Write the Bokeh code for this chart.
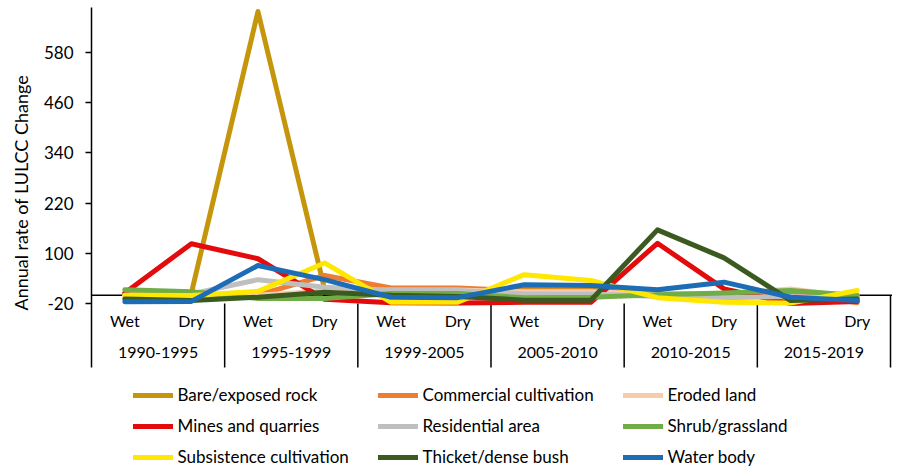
from bokeh.plotting import figure
from bokeh.models import FixedTicker, Span, Legend, LegendItem, Range1d, Title
from bokeh.core.properties import value
from bokeh.embed import file_html
from bokeh.resources import INLINE

# ---------------- data ----------------
periods = ["1990-1995", "1995-1999", "1999-2005", "2005-2010", "2010-2015", "2015-2019"]
seasons = ["Wet", "Dry"]

series_names = [
    "Bare/exposed rock", "Commercial cultivation", "Eroded land",
    "Mines and quarries", "Residential area", "Shrub/grassland",
    "Subsistence cultivation", "Thicket/dense bush", "Water body",
]
series_colors = [
    "#C5960C", "#ED7D31", "#F8CBAD",
    "#E30B0B", "#BFBFBF", "#70AD47",
    "#FFE700", "#3B5A20", "#1C6CB6",
]

bare_rock     = [0, 5, 678, 15, 5, 5, 14, 12, 3, 3, 3, 0]
commercial    = [2, 2, 0, 47, 17, 17, 10, 10, 0, -2, 8, -18]
eroded        = [0, 0, 0, 10, 12, 12, 8, 8, 2, 2, 15, -5]
mines         = [5, 123, 87, -10, -18, -19, -17, -17, 124, 15, -20, -15]
residential   = [0, 3, 37, 19, 11, 11, 3, 3, -3, -6, -3, -8]
shrub         = [13, 8, -8, -8, 4, 4, -6, -5, 1, 5, 11, -1]
subsistence   = [0, -1, 9, 77, -17, -17, 49, 35, -6, -17, -19, 11]
thicket       = [-9, -13, -5, 7, 0, -3, -12, -12, 156, 89, -13, -9]
water         = [-16, -15, 71, 37, -5, -6, 25, 23, 13, 31, -5, -13]

series_values = [bare_rock, commercial, eroded, mines, residential,
                 shrub, subsistence, thicket, water]

y_ticks = [-20, 100, 220, 340, 460, 580]
y_tick_labels = ["-20", "100", "220", "340", "460", "580"]
y_title = "Annual rate of LULCC Change"

# ---------------- layout constants ----------------
FONT = "Lato"
TXT = "#000000"
W, H = 892, 468
LEFT, TOP = 91, 7
Y_TOP = 687.6          # value at top of the plot frame
Y_AXIS_LOW = -173.0    # bottom of axis/category area
Y_FRAME_LOW = -414.4   # bottom of frame (legend area)
Y_SEASON = -60.6       # vertical position of Wet/Dry labels
Y_GROUP = -137.1       # vertical position of period labels

n_seasons = len(seasons)
n = len(periods) * n_seasons
xs = list(range(n))

p = figure(width=W, height=H,
           x_range=Range1d(-0.5, n - 0.47),
           y_range=Range1d(Y_FRAME_LOW, Y_TOP),
           output_backend="svg", toolbar_location=None, title=None,
           x_axis_type=None,
           min_border_left=LEFT, min_border_right=0,
           min_border_top=TOP, min_border_bottom=0)
p.outline_line_color = None
p.xgrid.visible = False
p.ygrid.visible = False
p.background_fill_color = "white"
p.border_fill_color = "white"

ya = p.yaxis[0]
ya.ticker = FixedTicker(ticks=y_ticks)
ya.major_label_overrides = {t: s for t, s in zip(y_ticks, y_tick_labels)}
ya.bounds = (Y_AXIS_LOW, Y_TOP)
ya.major_label_text_font = FONT
ya.major_label_text_font_size = "17px"
ya.major_label_text_color = TXT
ya.major_label_standoff = 12
ya.major_tick_in = 0
ya.major_tick_out = 6
ya.major_tick_line_color = "black"
ya.major_tick_line_width = 1.5
ya.minor_tick_line_color = None
ya.axis_line_color = "black"
ya.axis_line_width = 1.5

# y axis title, anchored at its lower end and reading upwards
ytitle = Title(text=y_title, align="left", offset=H - 310, vertical_align="top",
               standoff=14, text_font=FONT, text_font_size="18px",
               text_font_style="normal", text_color=TXT)
p.add_layout(ytitle, "left")

# zero line (category axis line)
zero = Span(location=0, dimension="width", line_color="black", line_width=1.5, level="underlay")
p.add_layout(zero)

# group dividers
div_x = [n_seasons * i - 0.5 for i in range(1, len(periods))]
p.segment(x0=div_x, y0=[y_ticks[0]] * len(div_x), x1=div_x, y1=[Y_AXIS_LOW] * len(div_x),
          line_color="black", line_width=1.5)
p.segment(x0=[n - 0.5], y0=[0], x1=[n - 0.5], y1=[Y_AXIS_LOW],
          line_color="black", line_width=1.5)

# category labels
season_labels = seasons * len(periods)
p.text(x=xs, y=[Y_SEASON] * n, text=season_labels,
       text_align="center", text_baseline="middle",
       text_font=value(FONT), text_font_size="16px", text_color=TXT)
group_x = [n_seasons * i + (n_seasons - 1) / 2 for i in range(len(periods))]
p.text(x=group_x, y=[Y_GROUP] * len(periods), text=periods,
       text_align="center", text_baseline="middle",
       text_font=value(FONT), text_font_size="16px", text_color=TXT)

# series lines
items = []
for name, col, vals in zip(series_names, series_colors, series_values):
    r = p.line(xs, vals, line_color=col, line_width=5,
               line_join="round", line_cap="round")
    items.append(LegendItem(label=name, renderers=[r]))

legend = Legend(items=items, location=(41.5, 1), orientation="horizontal", ncols=3,
                label_text_font=FONT, label_text_font_size="17px", label_text_color=TXT,
                glyph_width=40, glyph_height=20, label_height=20, label_width=190,
                label_standoff=5, spacing=10, padding=0, margin=0,
                border_line_color=None, background_fill_alpha=0)
p.add_layout(legend, "center")

open("out.html", "w").write(file_html(p, INLINE))
